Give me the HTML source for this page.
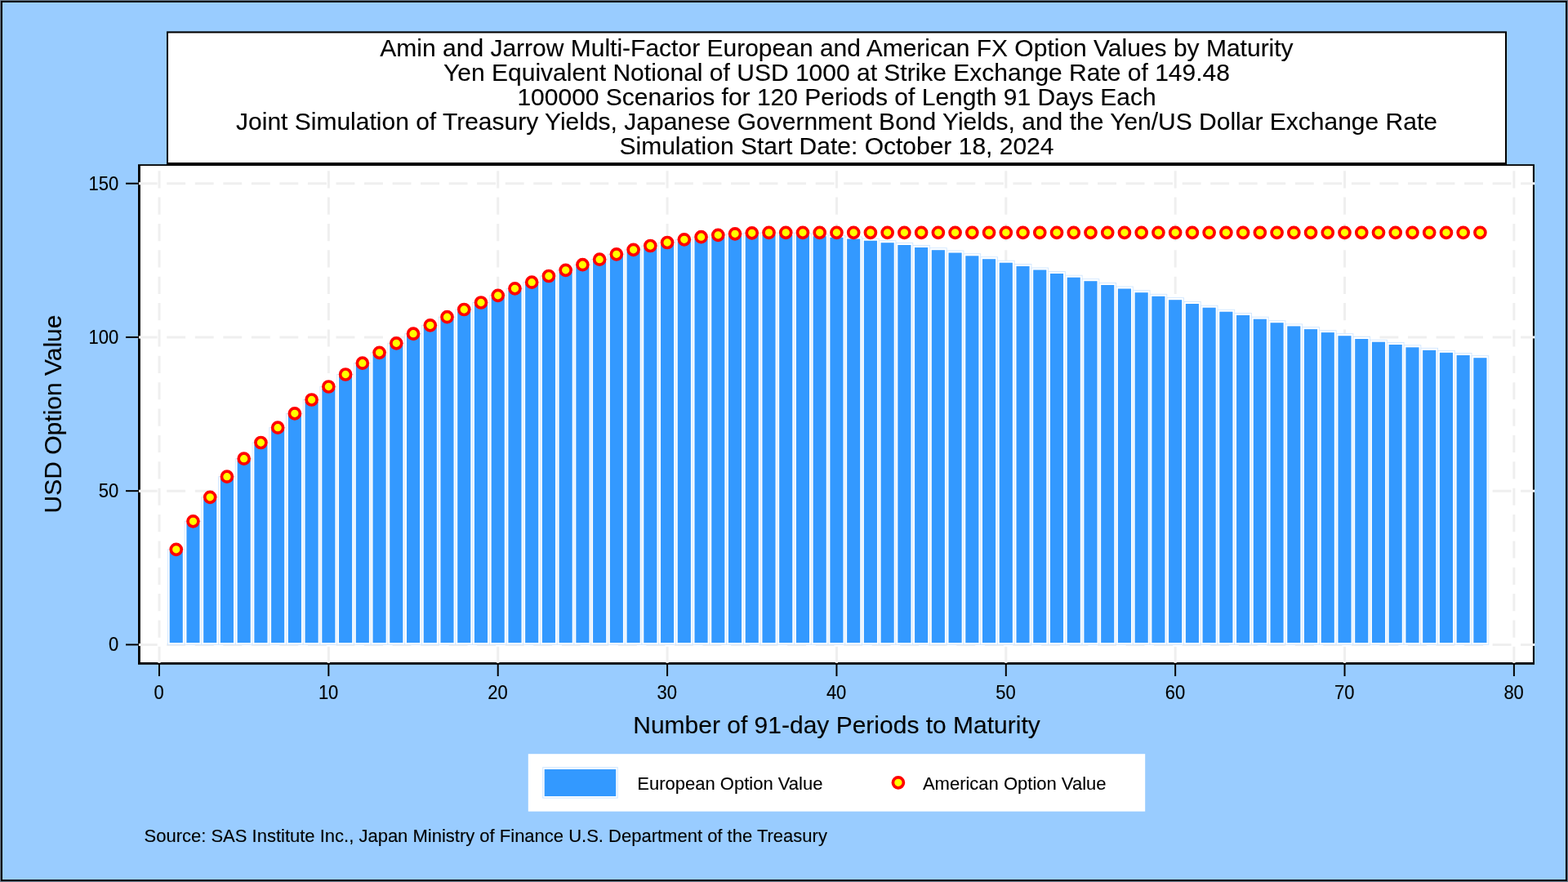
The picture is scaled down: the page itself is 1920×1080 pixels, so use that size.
<!DOCTYPE html>
<html lang="en"><head><meta charset="utf-8"><title>Amin and Jarrow Multi-Factor European and American FX Option Values by Maturity</title>
<style>html,body{margin:0;padding:0;background:#99ccff;overflow:hidden}svg{display:block}text{font-family:"Liberation Sans",Arial,Helvetica,sans-serif;fill:#000;stroke:#000;stroke-width:0.12px;stroke-linejoin:round}.t{font-size:30px}.s{font-size:22px}</style>
</head><body>
<svg width="1920" height="1080" viewBox="0 0 1920 1080">
<rect x="0" y="0" width="1920" height="1080" fill="#6a7a8c"/>
<rect x="1" y="1" width="1918" height="1078" fill="#000"/>
<rect x="3" y="3" width="1914" height="1074" fill="#99ccff"/>
<rect x="204" y="38.4" width="1641" height="163.4" fill="#000"/>
<rect x="206" y="40.5" width="1637" height="158.5" fill="#fff"/>
<rect x="169" y="201.2" width="1710" height="612.6" fill="#000"/>
<rect x="171.9" y="203" width="1705" height="608" fill="#fff"/>
<g stroke="#efefef" stroke-width="3" fill="none">
<line x1="169.7" y1="789.40" x2="1877" y2="789.40" stroke-dasharray="22.9 11.64"/>
<line x1="169.7" y1="601.16" x2="1877" y2="601.16" stroke-dasharray="22.9 11.64"/>
<line x1="169.7" y1="412.93" x2="1877" y2="412.93" stroke-dasharray="22.9 11.64"/>
<line x1="169.7" y1="224.69" x2="1877" y2="224.69" stroke-dasharray="22.9 11.64"/>
<line x1="195.00" y1="209.2" x2="195.00" y2="811" stroke-dasharray="21.2 11.17"/>
<line x1="402.36" y1="209.2" x2="402.36" y2="811" stroke-dasharray="21.2 11.17"/>
<line x1="609.72" y1="209.2" x2="609.72" y2="811" stroke-dasharray="21.2 11.17"/>
<line x1="817.08" y1="209.2" x2="817.08" y2="811" stroke-dasharray="21.2 11.17"/>
<line x1="1024.44" y1="209.2" x2="1024.44" y2="811" stroke-dasharray="21.2 11.17"/>
<line x1="1231.80" y1="209.2" x2="1231.80" y2="811" stroke-dasharray="21.2 11.17"/>
<line x1="1439.16" y1="209.2" x2="1439.16" y2="811" stroke-dasharray="21.2 11.17"/>
<line x1="1646.52" y1="209.2" x2="1646.52" y2="811" stroke-dasharray="21.2 11.17"/>
<line x1="1853.88" y1="209.2" x2="1853.88" y2="811" stroke-dasharray="21.2 11.17"/>
</g>
<g fill="#fff">
<rect x="170.7" y="788.10" width="1.5" height="2.6"/>
<rect x="1876.8" y="787.90" width="2.4" height="3"/>
<rect x="170.7" y="599.87" width="1.5" height="2.6"/>
<rect x="1876.8" y="599.66" width="2.4" height="3"/>
<rect x="170.7" y="411.63" width="1.5" height="2.6"/>
<rect x="1876.8" y="411.43" width="2.4" height="3"/>
<rect x="170.7" y="223.39" width="1.5" height="2.6"/>
<rect x="1876.8" y="223.19" width="2.4" height="3"/>
<rect x="193.40" y="810.6" width="3.2" height="1.2"/>
<rect x="400.76" y="810.6" width="3.2" height="1.2"/>
<rect x="608.12" y="810.6" width="3.2" height="1.2"/>
<rect x="815.48" y="810.6" width="3.2" height="1.2"/>
<rect x="1022.84" y="810.6" width="3.2" height="1.2"/>
<rect x="1230.20" y="810.6" width="3.2" height="1.2"/>
<rect x="1437.56" y="810.6" width="3.2" height="1.2"/>
<rect x="1644.92" y="810.6" width="3.2" height="1.2"/>
<rect x="1852.28" y="810.6" width="3.2" height="1.2"/>
</g>
<g>
<rect x="205.37" y="672.80" width="20.74" height="116.60" fill="#fff" stroke="#cfe6ff" stroke-width="0.9"/>
<rect x="207.69" y="675.30" width="16.1" height="111.70" fill="#3399ff"/>
<rect x="226.10" y="638.30" width="20.74" height="151.10" fill="#fff" stroke="#cfe6ff" stroke-width="0.9"/>
<rect x="228.42" y="640.80" width="16.1" height="146.20" fill="#3399ff"/>
<rect x="246.84" y="608.80" width="20.74" height="180.60" fill="#fff" stroke="#cfe6ff" stroke-width="0.9"/>
<rect x="249.16" y="611.30" width="16.1" height="175.70" fill="#3399ff"/>
<rect x="267.57" y="583.70" width="20.74" height="205.70" fill="#fff" stroke="#cfe6ff" stroke-width="0.9"/>
<rect x="269.89" y="586.20" width="16.1" height="200.80" fill="#3399ff"/>
<rect x="288.31" y="561.70" width="20.74" height="227.70" fill="#fff" stroke="#cfe6ff" stroke-width="0.9"/>
<rect x="290.63" y="564.20" width="16.1" height="222.80" fill="#3399ff"/>
<rect x="309.05" y="542.00" width="20.74" height="247.40" fill="#fff" stroke="#cfe6ff" stroke-width="0.9"/>
<rect x="311.37" y="544.50" width="16.1" height="242.50" fill="#3399ff"/>
<rect x="329.78" y="523.70" width="20.74" height="265.70" fill="#fff" stroke="#cfe6ff" stroke-width="0.9"/>
<rect x="332.10" y="526.20" width="16.1" height="260.80" fill="#3399ff"/>
<rect x="350.52" y="506.30" width="20.74" height="283.10" fill="#fff" stroke="#cfe6ff" stroke-width="0.9"/>
<rect x="352.84" y="508.80" width="16.1" height="278.20" fill="#3399ff"/>
<rect x="371.25" y="489.50" width="20.74" height="299.90" fill="#fff" stroke="#cfe6ff" stroke-width="0.9"/>
<rect x="373.57" y="492.00" width="16.1" height="295.00" fill="#3399ff"/>
<rect x="391.99" y="473.50" width="20.74" height="315.90" fill="#fff" stroke="#cfe6ff" stroke-width="0.9"/>
<rect x="394.31" y="476.00" width="16.1" height="311.00" fill="#3399ff"/>
<rect x="412.73" y="458.50" width="20.74" height="330.90" fill="#fff" stroke="#cfe6ff" stroke-width="0.9"/>
<rect x="415.05" y="461.00" width="16.1" height="326.00" fill="#3399ff"/>
<rect x="433.46" y="444.70" width="20.74" height="344.70" fill="#fff" stroke="#cfe6ff" stroke-width="0.9"/>
<rect x="435.78" y="447.20" width="16.1" height="339.80" fill="#3399ff"/>
<rect x="454.20" y="431.80" width="20.74" height="357.60" fill="#fff" stroke="#cfe6ff" stroke-width="0.9"/>
<rect x="456.52" y="434.30" width="16.1" height="352.70" fill="#3399ff"/>
<rect x="474.93" y="420.30" width="20.74" height="369.10" fill="#fff" stroke="#cfe6ff" stroke-width="0.9"/>
<rect x="477.25" y="422.80" width="16.1" height="364.20" fill="#3399ff"/>
<rect x="495.67" y="408.70" width="20.74" height="380.70" fill="#fff" stroke="#cfe6ff" stroke-width="0.9"/>
<rect x="497.99" y="411.20" width="16.1" height="375.80" fill="#3399ff"/>
<rect x="516.41" y="398.30" width="20.74" height="391.10" fill="#fff" stroke="#cfe6ff" stroke-width="0.9"/>
<rect x="518.73" y="400.80" width="16.1" height="386.20" fill="#3399ff"/>
<rect x="537.14" y="388.20" width="20.74" height="401.20" fill="#fff" stroke="#cfe6ff" stroke-width="0.9"/>
<rect x="539.46" y="390.70" width="16.1" height="396.30" fill="#3399ff"/>
<rect x="557.88" y="379.00" width="20.74" height="410.40" fill="#fff" stroke="#cfe6ff" stroke-width="0.9"/>
<rect x="560.20" y="381.50" width="16.1" height="405.50" fill="#3399ff"/>
<rect x="578.61" y="370.50" width="20.74" height="418.90" fill="#fff" stroke="#cfe6ff" stroke-width="0.9"/>
<rect x="580.93" y="373.00" width="16.1" height="414.00" fill="#3399ff"/>
<rect x="599.35" y="361.80" width="20.74" height="427.60" fill="#fff" stroke="#cfe6ff" stroke-width="0.9"/>
<rect x="601.67" y="364.30" width="16.1" height="422.70" fill="#3399ff"/>
<rect x="620.09" y="353.30" width="20.74" height="436.10" fill="#fff" stroke="#cfe6ff" stroke-width="0.9"/>
<rect x="622.41" y="355.80" width="16.1" height="431.20" fill="#3399ff"/>
<rect x="640.82" y="345.70" width="20.74" height="443.70" fill="#fff" stroke="#cfe6ff" stroke-width="0.9"/>
<rect x="643.14" y="348.20" width="16.1" height="438.80" fill="#3399ff"/>
<rect x="661.56" y="338.00" width="20.74" height="451.40" fill="#fff" stroke="#cfe6ff" stroke-width="0.9"/>
<rect x="663.88" y="340.50" width="16.1" height="446.50" fill="#3399ff"/>
<rect x="682.29" y="330.80" width="20.74" height="458.60" fill="#fff" stroke="#cfe6ff" stroke-width="0.9"/>
<rect x="684.61" y="333.30" width="16.1" height="453.70" fill="#3399ff"/>
<rect x="703.03" y="324.20" width="20.74" height="465.20" fill="#fff" stroke="#cfe6ff" stroke-width="0.9"/>
<rect x="705.35" y="326.70" width="16.1" height="460.30" fill="#3399ff"/>
<rect x="723.77" y="317.70" width="20.74" height="471.70" fill="#fff" stroke="#cfe6ff" stroke-width="0.9"/>
<rect x="726.09" y="320.20" width="16.1" height="466.80" fill="#3399ff"/>
<rect x="744.50" y="311.30" width="20.74" height="478.10" fill="#fff" stroke="#cfe6ff" stroke-width="0.9"/>
<rect x="746.82" y="313.80" width="16.1" height="473.20" fill="#3399ff"/>
<rect x="765.24" y="305.80" width="20.74" height="483.60" fill="#fff" stroke="#cfe6ff" stroke-width="0.9"/>
<rect x="767.56" y="308.30" width="16.1" height="478.70" fill="#3399ff"/>
<rect x="785.97" y="301.00" width="20.74" height="488.40" fill="#fff" stroke="#cfe6ff" stroke-width="0.9"/>
<rect x="788.29" y="303.50" width="16.1" height="483.50" fill="#3399ff"/>
<rect x="806.71" y="297.00" width="20.74" height="492.40" fill="#fff" stroke="#cfe6ff" stroke-width="0.9"/>
<rect x="809.03" y="299.50" width="16.1" height="487.50" fill="#3399ff"/>
<rect x="827.45" y="293.30" width="20.74" height="496.10" fill="#fff" stroke="#cfe6ff" stroke-width="0.9"/>
<rect x="829.77" y="295.80" width="16.1" height="491.20" fill="#3399ff"/>
<rect x="848.18" y="290.20" width="20.74" height="499.20" fill="#fff" stroke="#cfe6ff" stroke-width="0.9"/>
<rect x="850.50" y="292.70" width="16.1" height="494.30" fill="#3399ff"/>
<rect x="868.92" y="287.80" width="20.74" height="501.60" fill="#fff" stroke="#cfe6ff" stroke-width="0.9"/>
<rect x="871.24" y="290.30" width="16.1" height="496.70" fill="#3399ff"/>
<rect x="889.65" y="286.30" width="20.74" height="503.10" fill="#fff" stroke="#cfe6ff" stroke-width="0.9"/>
<rect x="891.97" y="288.80" width="16.1" height="498.20" fill="#3399ff"/>
<rect x="910.39" y="285.30" width="20.74" height="504.10" fill="#fff" stroke="#cfe6ff" stroke-width="0.9"/>
<rect x="912.71" y="287.80" width="16.1" height="499.20" fill="#3399ff"/>
<rect x="931.13" y="285.00" width="20.74" height="504.40" fill="#fff" stroke="#cfe6ff" stroke-width="0.9"/>
<rect x="933.45" y="287.50" width="16.1" height="499.50" fill="#3399ff"/>
<rect x="951.86" y="285.20" width="20.74" height="504.20" fill="#fff" stroke="#cfe6ff" stroke-width="0.9"/>
<rect x="954.18" y="287.70" width="16.1" height="499.30" fill="#3399ff"/>
<rect x="972.60" y="285.70" width="20.74" height="503.70" fill="#fff" stroke="#cfe6ff" stroke-width="0.9"/>
<rect x="974.92" y="288.20" width="16.1" height="498.80" fill="#3399ff"/>
<rect x="993.33" y="286.70" width="20.74" height="502.70" fill="#fff" stroke="#cfe6ff" stroke-width="0.9"/>
<rect x="995.65" y="289.20" width="16.1" height="497.80" fill="#3399ff"/>
<rect x="1014.07" y="288.30" width="20.74" height="501.10" fill="#fff" stroke="#cfe6ff" stroke-width="0.9"/>
<rect x="1016.39" y="290.80" width="16.1" height="496.20" fill="#3399ff"/>
<rect x="1034.81" y="290.00" width="20.74" height="499.40" fill="#fff" stroke="#cfe6ff" stroke-width="0.9"/>
<rect x="1037.13" y="292.50" width="16.1" height="494.50" fill="#3399ff"/>
<rect x="1055.54" y="292.20" width="20.74" height="497.20" fill="#fff" stroke="#cfe6ff" stroke-width="0.9"/>
<rect x="1057.86" y="294.70" width="16.1" height="492.30" fill="#3399ff"/>
<rect x="1076.28" y="294.70" width="20.74" height="494.70" fill="#fff" stroke="#cfe6ff" stroke-width="0.9"/>
<rect x="1078.60" y="297.20" width="16.1" height="489.80" fill="#3399ff"/>
<rect x="1097.01" y="297.50" width="20.74" height="491.90" fill="#fff" stroke="#cfe6ff" stroke-width="0.9"/>
<rect x="1099.33" y="300.00" width="16.1" height="487.00" fill="#3399ff"/>
<rect x="1117.75" y="300.50" width="20.74" height="488.90" fill="#fff" stroke="#cfe6ff" stroke-width="0.9"/>
<rect x="1120.07" y="303.00" width="16.1" height="484.00" fill="#3399ff"/>
<rect x="1138.49" y="303.70" width="20.74" height="485.70" fill="#fff" stroke="#cfe6ff" stroke-width="0.9"/>
<rect x="1140.81" y="306.20" width="16.1" height="480.80" fill="#3399ff"/>
<rect x="1159.22" y="307.00" width="20.74" height="482.40" fill="#fff" stroke="#cfe6ff" stroke-width="0.9"/>
<rect x="1161.54" y="309.50" width="16.1" height="477.50" fill="#3399ff"/>
<rect x="1179.96" y="310.80" width="20.74" height="478.60" fill="#fff" stroke="#cfe6ff" stroke-width="0.9"/>
<rect x="1182.28" y="313.30" width="16.1" height="473.70" fill="#3399ff"/>
<rect x="1200.69" y="314.70" width="20.74" height="474.70" fill="#fff" stroke="#cfe6ff" stroke-width="0.9"/>
<rect x="1203.01" y="317.20" width="16.1" height="469.80" fill="#3399ff"/>
<rect x="1221.43" y="319.20" width="20.74" height="470.20" fill="#fff" stroke="#cfe6ff" stroke-width="0.9"/>
<rect x="1223.75" y="321.70" width="16.1" height="465.30" fill="#3399ff"/>
<rect x="1242.17" y="323.50" width="20.74" height="465.90" fill="#fff" stroke="#cfe6ff" stroke-width="0.9"/>
<rect x="1244.49" y="326.00" width="16.1" height="461.00" fill="#3399ff"/>
<rect x="1262.90" y="328.00" width="20.74" height="461.40" fill="#fff" stroke="#cfe6ff" stroke-width="0.9"/>
<rect x="1265.22" y="330.50" width="16.1" height="456.50" fill="#3399ff"/>
<rect x="1283.64" y="332.50" width="20.74" height="456.90" fill="#fff" stroke="#cfe6ff" stroke-width="0.9"/>
<rect x="1285.96" y="335.00" width="16.1" height="452.00" fill="#3399ff"/>
<rect x="1304.37" y="337.20" width="20.74" height="452.20" fill="#fff" stroke="#cfe6ff" stroke-width="0.9"/>
<rect x="1306.69" y="339.70" width="16.1" height="447.30" fill="#3399ff"/>
<rect x="1325.11" y="341.70" width="20.74" height="447.70" fill="#fff" stroke="#cfe6ff" stroke-width="0.9"/>
<rect x="1327.43" y="344.20" width="16.1" height="442.80" fill="#3399ff"/>
<rect x="1345.85" y="346.50" width="20.74" height="442.90" fill="#fff" stroke="#cfe6ff" stroke-width="0.9"/>
<rect x="1348.17" y="349.00" width="16.1" height="438.00" fill="#3399ff"/>
<rect x="1366.58" y="351.00" width="20.74" height="438.40" fill="#fff" stroke="#cfe6ff" stroke-width="0.9"/>
<rect x="1368.90" y="353.50" width="16.1" height="433.50" fill="#3399ff"/>
<rect x="1387.32" y="355.70" width="20.74" height="433.70" fill="#fff" stroke="#cfe6ff" stroke-width="0.9"/>
<rect x="1389.64" y="358.20" width="16.1" height="428.80" fill="#3399ff"/>
<rect x="1408.05" y="360.30" width="20.74" height="429.10" fill="#fff" stroke="#cfe6ff" stroke-width="0.9"/>
<rect x="1410.37" y="362.80" width="16.1" height="424.20" fill="#3399ff"/>
<rect x="1428.79" y="364.70" width="20.74" height="424.70" fill="#fff" stroke="#cfe6ff" stroke-width="0.9"/>
<rect x="1431.11" y="367.20" width="16.1" height="419.80" fill="#3399ff"/>
<rect x="1449.53" y="369.50" width="20.74" height="419.90" fill="#fff" stroke="#cfe6ff" stroke-width="0.9"/>
<rect x="1451.85" y="372.00" width="16.1" height="415.00" fill="#3399ff"/>
<rect x="1470.26" y="374.20" width="20.74" height="415.20" fill="#fff" stroke="#cfe6ff" stroke-width="0.9"/>
<rect x="1472.58" y="376.70" width="16.1" height="410.30" fill="#3399ff"/>
<rect x="1491.00" y="379.20" width="20.74" height="410.20" fill="#fff" stroke="#cfe6ff" stroke-width="0.9"/>
<rect x="1493.32" y="381.70" width="16.1" height="405.30" fill="#3399ff"/>
<rect x="1511.73" y="383.50" width="20.74" height="405.90" fill="#fff" stroke="#cfe6ff" stroke-width="0.9"/>
<rect x="1514.05" y="386.00" width="16.1" height="401.00" fill="#3399ff"/>
<rect x="1532.47" y="388.20" width="20.74" height="401.20" fill="#fff" stroke="#cfe6ff" stroke-width="0.9"/>
<rect x="1534.79" y="390.70" width="16.1" height="396.30" fill="#3399ff"/>
<rect x="1553.21" y="392.70" width="20.74" height="396.70" fill="#fff" stroke="#cfe6ff" stroke-width="0.9"/>
<rect x="1555.53" y="395.20" width="16.1" height="391.80" fill="#3399ff"/>
<rect x="1573.94" y="396.90" width="20.74" height="392.50" fill="#fff" stroke="#cfe6ff" stroke-width="0.9"/>
<rect x="1576.26" y="399.40" width="16.1" height="387.60" fill="#3399ff"/>
<rect x="1594.68" y="400.60" width="20.74" height="388.80" fill="#fff" stroke="#cfe6ff" stroke-width="0.9"/>
<rect x="1597.00" y="403.10" width="16.1" height="383.90" fill="#3399ff"/>
<rect x="1615.41" y="404.60" width="20.74" height="384.80" fill="#fff" stroke="#cfe6ff" stroke-width="0.9"/>
<rect x="1617.73" y="407.10" width="16.1" height="379.90" fill="#3399ff"/>
<rect x="1636.15" y="408.70" width="20.74" height="380.70" fill="#fff" stroke="#cfe6ff" stroke-width="0.9"/>
<rect x="1638.47" y="411.20" width="16.1" height="375.80" fill="#3399ff"/>
<rect x="1656.89" y="412.50" width="20.74" height="376.90" fill="#fff" stroke="#cfe6ff" stroke-width="0.9"/>
<rect x="1659.21" y="415.00" width="16.1" height="372.00" fill="#3399ff"/>
<rect x="1677.62" y="416.20" width="20.74" height="373.20" fill="#fff" stroke="#cfe6ff" stroke-width="0.9"/>
<rect x="1679.94" y="418.70" width="16.1" height="368.30" fill="#3399ff"/>
<rect x="1698.36" y="419.50" width="20.74" height="369.90" fill="#fff" stroke="#cfe6ff" stroke-width="0.9"/>
<rect x="1700.68" y="422.00" width="16.1" height="365.00" fill="#3399ff"/>
<rect x="1719.09" y="422.80" width="20.74" height="366.60" fill="#fff" stroke="#cfe6ff" stroke-width="0.9"/>
<rect x="1721.41" y="425.30" width="16.1" height="361.70" fill="#3399ff"/>
<rect x="1739.83" y="426.30" width="20.74" height="363.10" fill="#fff" stroke="#cfe6ff" stroke-width="0.9"/>
<rect x="1742.15" y="428.80" width="16.1" height="358.20" fill="#3399ff"/>
<rect x="1760.57" y="429.30" width="20.74" height="360.10" fill="#fff" stroke="#cfe6ff" stroke-width="0.9"/>
<rect x="1762.89" y="431.80" width="16.1" height="355.20" fill="#3399ff"/>
<rect x="1781.30" y="432.50" width="20.74" height="356.90" fill="#fff" stroke="#cfe6ff" stroke-width="0.9"/>
<rect x="1783.62" y="435.00" width="16.1" height="352.00" fill="#3399ff"/>
<rect x="1802.04" y="435.70" width="20.74" height="353.70" fill="#fff" stroke="#cfe6ff" stroke-width="0.9"/>
<rect x="1804.36" y="438.20" width="16.1" height="348.80" fill="#3399ff"/>
</g>
<g stroke="#000" stroke-width="2">
<line x1="154" y1="789.40" x2="170" y2="789.40"/>
<line x1="154" y1="601.16" x2="170" y2="601.16"/>
<line x1="154" y1="412.93" x2="170" y2="412.93"/>
<line x1="154" y1="224.69" x2="170" y2="224.69"/>
<line x1="195.00" y1="813" x2="195.00" y2="828"/>
<line x1="402.36" y1="813" x2="402.36" y2="828"/>
<line x1="609.72" y1="813" x2="609.72" y2="828"/>
<line x1="817.08" y1="813" x2="817.08" y2="828"/>
<line x1="1024.44" y1="813" x2="1024.44" y2="828"/>
<line x1="1231.80" y1="813" x2="1231.80" y2="828"/>
<line x1="1439.16" y1="813" x2="1439.16" y2="828"/>
<line x1="1646.52" y1="813" x2="1646.52" y2="828"/>
<line x1="1853.88" y1="813" x2="1853.88" y2="828"/>
</g>
<g fill="#ffff00" stroke="#ff0000" stroke-width="3.7">
<circle cx="215.74" cy="672.80" r="6.5"/>
<circle cx="236.47" cy="638.30" r="6.5"/>
<circle cx="257.21" cy="608.80" r="6.5"/>
<circle cx="277.94" cy="583.70" r="6.5"/>
<circle cx="298.68" cy="561.70" r="6.5"/>
<circle cx="319.42" cy="542.00" r="6.5"/>
<circle cx="340.15" cy="523.70" r="6.5"/>
<circle cx="360.89" cy="506.30" r="6.5"/>
<circle cx="381.62" cy="489.50" r="6.5"/>
<circle cx="402.36" cy="473.50" r="6.5"/>
<circle cx="423.10" cy="458.50" r="6.5"/>
<circle cx="443.83" cy="444.70" r="6.5"/>
<circle cx="464.57" cy="431.80" r="6.5"/>
<circle cx="485.30" cy="420.30" r="6.5"/>
<circle cx="506.04" cy="408.70" r="6.5"/>
<circle cx="526.78" cy="398.30" r="6.5"/>
<circle cx="547.51" cy="388.20" r="6.5"/>
<circle cx="568.25" cy="379.00" r="6.5"/>
<circle cx="588.98" cy="370.50" r="6.5"/>
<circle cx="609.72" cy="361.80" r="6.5"/>
<circle cx="630.46" cy="353.30" r="6.5"/>
<circle cx="651.19" cy="345.70" r="6.5"/>
<circle cx="671.93" cy="338.00" r="6.5"/>
<circle cx="692.66" cy="330.80" r="6.5"/>
<circle cx="713.40" cy="324.20" r="6.5"/>
<circle cx="734.14" cy="317.70" r="6.5"/>
<circle cx="754.87" cy="311.30" r="6.5"/>
<circle cx="775.61" cy="305.80" r="6.5"/>
<circle cx="796.34" cy="301.00" r="6.5"/>
<circle cx="817.08" cy="297.00" r="6.5"/>
<circle cx="837.82" cy="293.30" r="6.5"/>
<circle cx="858.55" cy="290.20" r="6.5"/>
<circle cx="879.29" cy="287.80" r="6.5"/>
<circle cx="900.02" cy="286.30" r="6.5"/>
<circle cx="920.76" cy="285.30" r="6.5"/>
<circle cx="941.50" cy="284.90" r="6.5"/>
<circle cx="962.23" cy="284.80" r="6.5"/>
<circle cx="982.97" cy="284.80" r="6.5"/>
<circle cx="1003.70" cy="284.80" r="6.5"/>
<circle cx="1024.44" cy="284.80" r="6.5"/>
<circle cx="1045.18" cy="284.80" r="6.5"/>
<circle cx="1065.91" cy="284.80" r="6.5"/>
<circle cx="1086.65" cy="284.80" r="6.5"/>
<circle cx="1107.38" cy="284.80" r="6.5"/>
<circle cx="1128.12" cy="284.80" r="6.5"/>
<circle cx="1148.86" cy="284.80" r="6.5"/>
<circle cx="1169.59" cy="284.80" r="6.5"/>
<circle cx="1190.33" cy="284.80" r="6.5"/>
<circle cx="1211.06" cy="284.80" r="6.5"/>
<circle cx="1231.80" cy="284.80" r="6.5"/>
<circle cx="1252.54" cy="284.80" r="6.5"/>
<circle cx="1273.27" cy="284.80" r="6.5"/>
<circle cx="1294.01" cy="284.80" r="6.5"/>
<circle cx="1314.74" cy="284.80" r="6.5"/>
<circle cx="1335.48" cy="284.80" r="6.5"/>
<circle cx="1356.22" cy="284.80" r="6.5"/>
<circle cx="1376.95" cy="284.80" r="6.5"/>
<circle cx="1397.69" cy="284.80" r="6.5"/>
<circle cx="1418.42" cy="284.80" r="6.5"/>
<circle cx="1439.16" cy="284.80" r="6.5"/>
<circle cx="1459.90" cy="284.80" r="6.5"/>
<circle cx="1480.63" cy="284.80" r="6.5"/>
<circle cx="1501.37" cy="284.80" r="6.5"/>
<circle cx="1522.10" cy="284.80" r="6.5"/>
<circle cx="1542.84" cy="284.80" r="6.5"/>
<circle cx="1563.58" cy="284.80" r="6.5"/>
<circle cx="1584.31" cy="284.80" r="6.5"/>
<circle cx="1605.05" cy="284.80" r="6.5"/>
<circle cx="1625.78" cy="284.80" r="6.5"/>
<circle cx="1646.52" cy="284.80" r="6.5"/>
<circle cx="1667.26" cy="284.80" r="6.5"/>
<circle cx="1687.99" cy="284.80" r="6.5"/>
<circle cx="1708.73" cy="284.80" r="6.5"/>
<circle cx="1729.46" cy="284.80" r="6.5"/>
<circle cx="1750.20" cy="284.80" r="6.5"/>
<circle cx="1770.94" cy="284.80" r="6.5"/>
<circle cx="1791.67" cy="284.80" r="6.5"/>
<circle cx="1812.41" cy="284.80" r="6.5"/>
</g>
<text class="t" x="1024.5" y="68.5" text-anchor="middle">Amin and Jarrow Multi-Factor European and American FX Option Values by Maturity</text>
<text class="t" x="1024.5" y="98.5" text-anchor="middle">Yen Equivalent Notional of USD 1000 at Strike Exchange Rate of 149.48</text>
<text class="t" x="1024.5" y="128.5" text-anchor="middle">100000 Scenarios for 120 Periods of Length 91 Days Each</text>
<text class="t" x="1024.5" y="158.5" text-anchor="middle">Joint Simulation of Treasury Yields, Japanese Government Bond Yields, and the Yen/US Dollar Exchange Rate</text>
<text class="t" x="1024.5" y="188.5" text-anchor="middle">Simulation Start Date: October 18, 2024</text>
<text class="s" transform="translate(145.3 797.4) scale(1 1.06)" text-anchor="end">0</text>
<text class="s" transform="translate(145.3 609.2) scale(1 1.06)" text-anchor="end">50</text>
<text class="s" transform="translate(145.3 420.9) scale(1 1.06)" text-anchor="end">100</text>
<text class="s" transform="translate(145.3 232.7) scale(1 1.06)" text-anchor="end">150</text>
<text class="s" transform="translate(194.7 856) scale(1 1.06)" text-anchor="middle">0</text>
<text class="s" transform="translate(402.1 856) scale(1 1.06)" text-anchor="middle">10</text>
<text class="s" transform="translate(609.4 856) scale(1 1.06)" text-anchor="middle">20</text>
<text class="s" transform="translate(816.8 856) scale(1 1.06)" text-anchor="middle">30</text>
<text class="s" transform="translate(1024.1 856) scale(1 1.06)" text-anchor="middle">40</text>
<text class="s" transform="translate(1231.5 856) scale(1 1.06)" text-anchor="middle">50</text>
<text class="s" transform="translate(1438.9 856) scale(1 1.06)" text-anchor="middle">60</text>
<text class="s" transform="translate(1646.2 856) scale(1 1.06)" text-anchor="middle">70</text>
<text class="s" transform="translate(1853.6 856) scale(1 1.06)" text-anchor="middle">80</text>
<text class="t" x="1024.5" y="897.8" text-anchor="middle">Number of 91-day Periods to Maturity</text>
<text class="t" transform="translate(74.5 507) rotate(-90)" text-anchor="middle">USD Option Value</text>
<rect x="646.8" y="923.2" width="755.4" height="70.4" fill="#fff"/>
<rect x="664.7" y="939.7" width="91.5" height="37.4" fill="#fff" stroke="#cfe6ff" stroke-width="1"/>
<rect x="666.7" y="942" width="87.5" height="33" fill="#3399ff"/>
<text class="s" x="780.3" y="966.7">European Option Value</text>
<circle cx="1099.9" cy="958.3" r="6.5" fill="#ffff00" stroke="#ff0000" stroke-width="3.7"/>
<text class="s" x="1129.9" y="966.7">American Option Value</text>
<text class="s" x="176.5" y="1030.8">Source: SAS Institute Inc., Japan Ministry of Finance U.S. Department of the Treasury</text>
</svg>
</body></html>
